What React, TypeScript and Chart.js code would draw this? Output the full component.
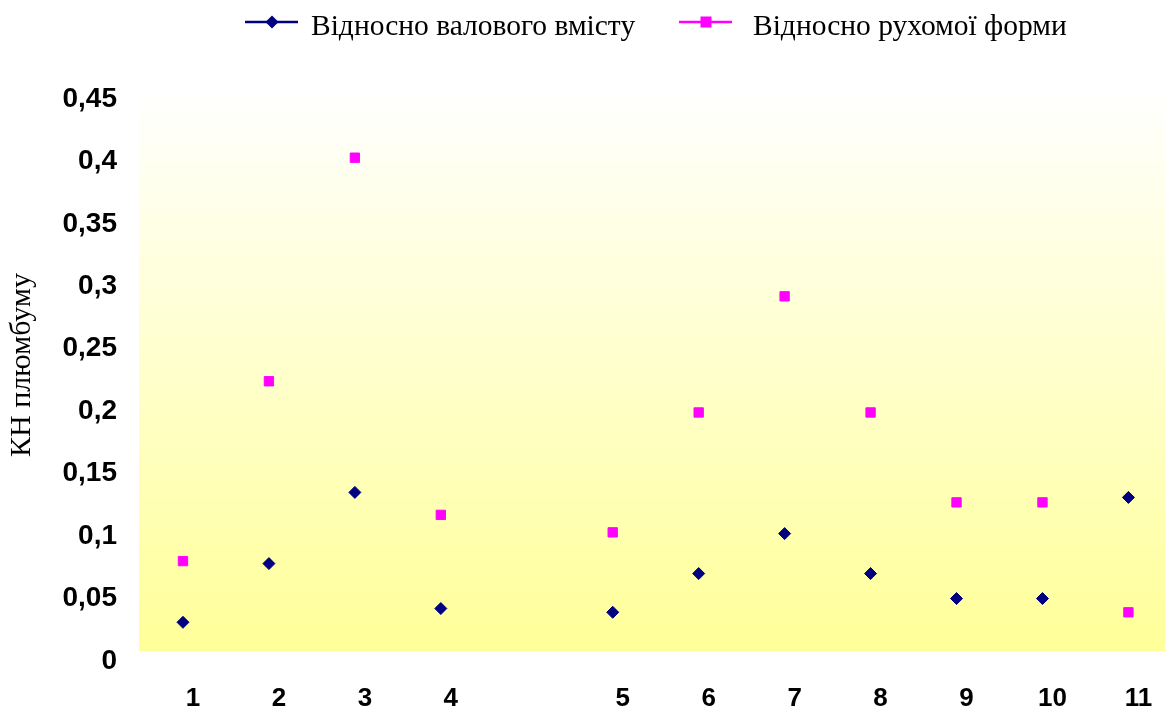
import React, { useEffect, useRef } from 'react';
import { Chart, registerables } from 'chart.js';

Chart.register(...registerables);

// ---- data ----
const categories: string[] = ['1', '2', '3', '4', '', '5', '6', '7', '8', '9', '10', '11'];
const grossValues: (number | null)[] = [0.031, 0.078, 0.135, 0.042, null, 0.039, 0.07, 0.102, 0.07, 0.05, 0.05, 0.131];
const mobileValues: (number | null)[] = [0.08, 0.224, 0.403, 0.117, null, 0.103, 0.199, 0.292, 0.199, 0.127, 0.127, 0.039];
const seriesNames: string[] = ['Відносно валового вмісту', 'Відносно рухомої форми'];
const seriesColors: string[] = ['#000080', '#FF00FF'];
const yAxisTitle = 'КН плюмбуму';
const yMin = 0;
const yMax = 0.45;
const yStep = 0.05;

const formatTick = (v: number): string => String(Math.round(v * 100) / 100).replace('.', ',');

const plotBackground = {
  id: 'plotBackground',
  beforeDraw(chart: any) {
    const { ctx, chartArea } = chart;
    const { left, right, top, bottom } = chartArea;
    const fTop = top - 10;
    const fBottom = bottom - 10;
    const fLeft = left - 1;
    ctx.save();
    const g = ctx.createLinearGradient(0, fTop, 0, fBottom);
    g.addColorStop(0, '#FFFFFF');
    g.addColorStop(1, '#FFFF99');
    ctx.fillStyle = g;
    ctx.fillRect(fLeft, fTop, right - fLeft, fBottom - fTop);
    ctx.restore();
  },
};

const legendLineStarts = [245, 679];
const legendTextGaps = [13, 21];

const excelLegend = {
  id: 'excelLegend',
  afterDraw(chart: any) {
    const ctx = chart.ctx;
    ctx.save();
    const y = 22;
    chart.data.datasets.forEach((ds: any, i: number) => {
      const x = legendLineStarts[i];
      const color = ds.borderColor;
      ctx.strokeStyle = color;
      ctx.lineWidth = 2.6;
      ctx.beginPath();
      ctx.moveTo(x, y);
      ctx.lineTo(x + 53, y);
      ctx.stroke();
      const mx = x + 27;
      ctx.fillStyle = color;
      ctx.beginPath();
      if (i === 0) {
        ctx.moveTo(mx - 6.5, y);
        ctx.lineTo(mx, y - 6.5);
        ctx.lineTo(mx + 6.5, y);
        ctx.lineTo(mx, y + 6.5);
        ctx.closePath();
      } else {
        ctx.rect(mx - 5.5, y - 5.5, 11, 11);
      }
      ctx.fill();
      ctx.font = '29.5px "Liberation Serif"';
      ctx.fillStyle = '#000';
      ctx.textBaseline = 'alphabetic';
      ctx.textAlign = 'left';
      ctx.fillText(ds.label, x + 53 + legendTextGaps[i], 35);
    });
    // y axis title
    ctx.translate(22, 365);
    ctx.rotate(-Math.PI / 2);
    ctx.font = '30px "Liberation Serif"';
    ctx.fillStyle = '#000';
    ctx.textAlign = 'center';
    ctx.textBaseline = 'middle';
    ctx.fillText(yAxisTitle, 0, 0);
    ctx.restore();
  },
};

export default function App() {
  const ref = useRef<HTMLCanvasElement | null>(null);

  useEffect(() => {
    if (!ref.current) return;
    const chart = new Chart(ref.current, {
      type: 'line',
      data: {
        labels: categories,
        datasets: [
          {
            label: seriesNames[0],
            data: grossValues,
            showLine: false,
            pointStyle: 'rectRot',
            pointRadius: 6,
            pointBorderWidth: 1,
            backgroundColor: seriesColors[0],
            borderColor: seriesColors[0],
          },
          {
            label: seriesNames[1],
            data: mobileValues,
            showLine: false,
            pointStyle: 'rect',
            pointRadius: 6.6,
            pointBorderWidth: 1,
            backgroundColor: seriesColors[1],
            borderColor: seriesColors[1],
          },
        ],
      },
      options: {
        animation: false,
        responsive: false,
        devicePixelRatio: 1,
        layout: { padding: { top: 99, left: 0, right: 0, bottom: 0 } },
        plugins: {
          legend: { display: false },
          tooltip: { enabled: false },
        },
        scales: {
          x: {
            type: 'category',
            offset: true,
            grid: { display: false, drawTicks: false },
            border: { display: false },
            ticks: {
              autoSkip: false,
              maxRotation: 0,
              labelOffset: 10,
              padding: 22,
              color: '#000',
              font: { family: '"Liberation Sans"', size: 26, weight: 'bold' },
            },
            afterFit: (scale: any) => {
              scale.height = 45;
            },
          },
          y: {
            min: yMin,
            max: yMax,
            grid: { display: false, drawTicks: false },
            border: { display: false },
            ticks: {
              stepSize: yStep,
              padding: 23,
              color: '#000',
              font: { family: '"Liberation Sans"', size: 28, weight: 'bold' },
              callback: (v: any) => formatTick(Number(v)),
            },
            afterFit: (scale: any) => {
              scale.width = 140;
            },
          },
        },
      },
      plugins: [plotBackground, excelLegend],
    });
    return () => chart.destroy();
  }, []);

  return (
    <div
      style={{
        position: 'fixed',
        left: 0,
        top: 0,
        width: 1165,
        height: 706,
        overflow: 'hidden',
        background: '#fff',
      }}
    >
      <div style={{ width: 1179, height: 706 }}>
        <canvas ref={ref} width={1179} height={706} style={{ display: 'block' }} />
      </div>
    </div>
  );
}
